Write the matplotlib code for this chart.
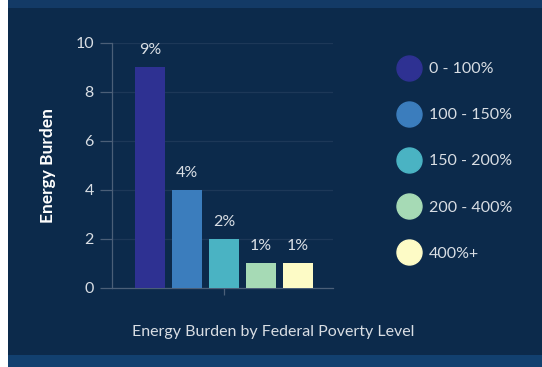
import matplotlib
matplotlib.use("Agg")
import matplotlib.pyplot as plt
import matplotlib.patches as patches
from matplotlib.lines import Line2D

plt.rcParams['font.family'] = ['Lato', 'DejaVu Sans']

# Energy burden (%) for each federal poverty level bracket
groups = ['0 - 100%', '100 - 150%', '150 - 200%', '200 - 400%', '400%+']
burden = [9, 4, 2, 1, 1]
bar_labels = ['9%', '4%', '2%', '1%', '1%']
colors = ['#2e3192', '#3b7dbd', '#4ab3c3', '#a6dab5', '#fdfbc6']

yticks = [0, 2, 4, 6, 8, 10]

bg = '#0c2a4b'
band = '#12406f'
text_col = '#d9dee4'
spine_col = '#4b5f78'
grid_col = '#1d3858'

fig = plt.figure(figsize=(5.42, 3.67), dpi=100)
fig.patch.set_facecolor(bg)

# Frame: white strip on the left, lighter bands at top and bottom
fig.patches.append(patches.Rectangle((0, 0), 8 / 542, 1, transform=fig.transFigure,
                                     facecolor='white', edgecolor='none', zorder=0))
fig.patches.append(patches.Rectangle((8 / 542, 1 - 8 / 367), 1, 8 / 367, transform=fig.transFigure,
                                     facecolor='#133a66', edgecolor='none', zorder=0))
fig.patches.append(patches.Rectangle((8 / 542, 0), 1, 12 / 367, transform=fig.transFigure,
                                     facecolor=band, edgecolor='none', zorder=0))

ax = fig.add_axes([112 / 542, 1 - 287.7 / 367, 221 / 542, 245 / 367])
ax.set_facecolor(bg)

# one category, five series side by side
offsets = [-2, -1, 0, 1, 2]
pitch = 1.0
width = 0.81
bars = []
for off, val, col, grp in zip(offsets, burden, colors, groups):
    b = ax.bar(off * pitch, val, width=width, color=col, label=grp, zorder=3)
    bars.append(b)

for b, lab in zip(bars, bar_labels):
    ax.bar_label(b, labels=[lab], padding=7, color=text_col, fontsize=11.5)

ax.set_xlim(-3.03, 2.95)
ax.set_ylim(0, 10)
ax.set_yticks(yticks)
ax.set_xticks([0])
ax.set_xticklabels([''])

ax.grid(axis='y', color=grid_col, linewidth=0.9, zorder=0)
for side in ['top', 'right']:
    ax.spines[side].set_visible(False)
for side in ['left', 'bottom']:
    ax.spines[side].set_color(spine_col)
    ax.spines[side].set_linewidth(0.9)

ax.tick_params(axis='y', colors=spine_col, length=9, width=0.9, labelcolor=text_col,
               labelsize=11.5, pad=4)
ax.tick_params(axis='x', colors=spine_col, length=5, width=0.9)

ax.set_ylabel('Energy Burden', color='white', fontsize=12.5, fontweight='bold')
ax.yaxis.set_label_coords(-0.255, 0.5)

fig.text(273 / 542, 1 - 332 / 367, 'Energy Burden by Federal Poverty Level',
         color=text_col, fontsize=11.5, ha='center', va='center')

handles = [Line2D([], [], marker='o', linestyle='none', markersize=18,
                  markerfacecolor=c, markeredgecolor=c) for c in colors]
leg = fig.legend(handles, groups, loc='upper left',
                 bbox_to_anchor=(399 / 542, 1 - 62 / 367),
                 frameon=False, fontsize=11.5, labelcolor=text_col,
                 handlelength=1.3, handletextpad=0.55, labelspacing=2.0,
                 borderpad=0, borderaxespad=0)

fig.savefig('out.png', dpi=100, facecolor=fig.get_facecolor())
